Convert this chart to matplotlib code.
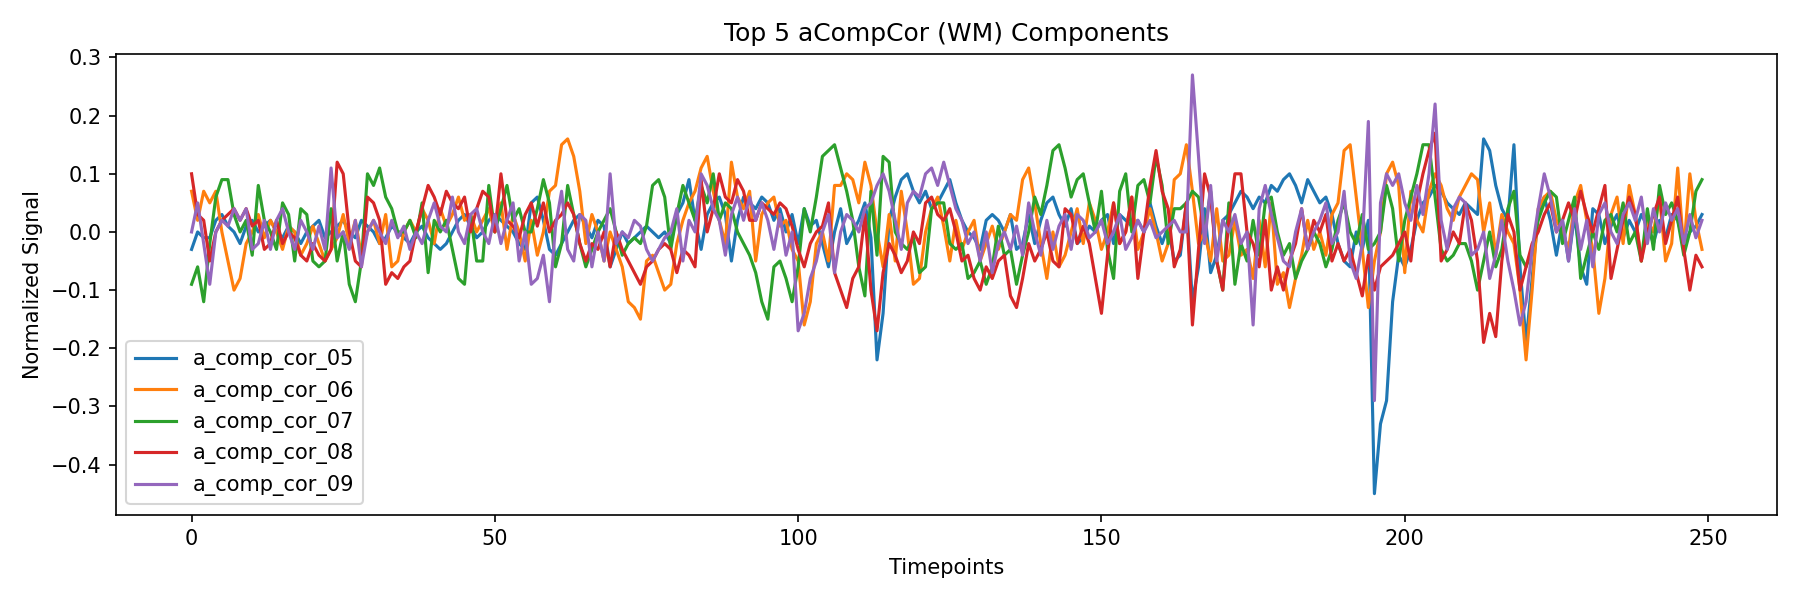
import matplotlib
matplotlib.use('Agg')
import matplotlib.pyplot as plt
import numpy as np

# Values (250 timepoints per component)
comp_05 = [
    -0.03, 0.0, -0.01, -0.01, 0.02, 0.03, 0.01, 0.0, -0.02, 0.01, 0.02, 0.0, 0.01, 0.02, 0.0, -0.01, 0.01, 0.0, -0.02, 0.0, 0.01, 0.02, -0.01, 0.0, 0.01,
    0.02, 0.0, -0.01, 0.02, 0.01, 0.0, -0.02, -0.01, 0.01, 0.0, -0.01, -0.02, 0.0, 0.01, -0.01, -0.02, -0.03, -0.02, 0.0, 0.02, 0.03, 0.01, -0.01, 0.0, 0.02,
    0.03, 0.02, 0.01, 0.0, -0.02, -0.03, 0.05, 0.06, 0.02, -0.03, -0.04, -0.02, 0.0, 0.02, 0.03, 0.01, -0.01, 0.02, 0.01, -0.06, -0.03, 0.0, -0.02, -0.01, 0.0,
    0.01, 0.0, -0.01, 0.0, -0.02, 0.03, 0.05, 0.09, 0.02, -0.03, 0.03, 0.05, 0.06, 0.03, -0.05, 0.02, 0.06, 0.05, 0.04, 0.06, 0.05, 0.02, 0.04, 0.0, 0.03,
    -0.02, 0.04, 0.01, 0.02, -0.02, -0.06, 0.0, 0.04, -0.02, 0.0, 0.02, 0.05, -0.01, -0.22, -0.14, 0.02, 0.06, 0.09, 0.1, 0.07, 0.05, 0.07, 0.04, 0.05, 0.07,
    0.09, 0.05, 0.02, 0.0, -0.01, -0.03, 0.02, 0.03, 0.02, 0.0, 0.03, -0.03, -0.02, 0.03, -0.02, 0.02, 0.05, 0.06, 0.03, 0.01, 0.04, -0.02, -0.01, 0.01, 0.0,
    0.02, 0.03, -0.02, 0.03, 0.02, 0.01, 0.02, 0.0, 0.05, 0.01, -0.02, 0.01, -0.05, -0.04, 0.05, -0.12, -0.06, 0.04, -0.07, -0.04, 0.02, 0.03, 0.05, 0.07, 0.06,
    0.04, 0.06, 0.05, 0.08, 0.07, 0.09, 0.1, 0.08, 0.05, 0.09, 0.07, 0.05, 0.06, 0.03, -0.02, -0.05, -0.06, 0.0, -0.03, 0.02, -0.45, -0.33, -0.29, -0.12, -0.04,
    -0.06, -0.03, 0.02, 0.05, 0.06, 0.08, 0.07, 0.05, 0.04, 0.03, 0.05, 0.04, 0.03, 0.16, 0.14, 0.08, 0.04, 0.02, 0.15, -0.06, -0.19, -0.08, 0.03, 0.06, 0.02,
    -0.04, 0.02, -0.05, 0.03, -0.06, -0.09, 0.04, 0.03, -0.02, 0.01, 0.03, -0.01, 0.02, 0.0, 0.03, 0.01, -0.02, 0.02, -0.01, 0.03, 0.02, -0.02, 0.0, 0.01, 0.03,
]
comp_06 = [
    0.07, 0.02, 0.07, 0.05, 0.07, 0.0, -0.05, -0.1, -0.08, -0.02, 0.0, 0.03, -0.01, 0.02, 0.0, -0.03, 0.01, 0.0, -0.04, -0.02, 0.01, -0.02, -0.05, -0.03, -0.01,
    0.03, -0.02, 0.02, -0.04, 0.0, 0.02, -0.02, 0.03, -0.06, -0.05, 0.0, 0.02, 0.0, 0.04, 0.02, -0.02, 0.04, 0.01, 0.03, 0.06, 0.02, 0.03, 0.0, 0.02, 0.04,
    0.0, 0.05, -0.03, 0.03, 0.0, -0.05, 0.02, -0.04, 0.0, 0.07, 0.08, 0.15, 0.16, 0.13, 0.07, -0.02, 0.03, 0.0, -0.05, 0.0, -0.03, -0.06, -0.12, -0.13, -0.15,
    -0.05, -0.04, -0.07, -0.1, -0.09, -0.02, 0.02, 0.05, 0.07, 0.11, 0.13, 0.07, 0.02, -0.02, 0.12, 0.06, 0.04, 0.07, -0.05, 0.03, 0.05, 0.06, 0.01, 0.02, -0.03,
    -0.05, -0.16, -0.12, -0.02, 0.0, -0.05, 0.08, 0.08, 0.1, 0.09, 0.05, 0.12, 0.08, 0.0, -0.06, 0.03, -0.05, 0.07, 0.0, -0.09, -0.08, 0.0, 0.04, 0.06, 0.01,
    -0.05, 0.02, -0.03, 0.0, 0.02, -0.05, -0.02, 0.01, -0.03, 0.0, 0.03, 0.02, 0.09, 0.11, 0.05, -0.02, -0.08, 0.0, -0.06, -0.04, 0.0, 0.04, -0.02, 0.05, 0.02,
    -0.03, 0.0, 0.05, -0.02, 0.0, 0.06, -0.03, 0.0, 0.04, 0.0, -0.05, -0.02, 0.09, 0.1, 0.15, 0.07, -0.02, 0.0, -0.05, 0.04, -0.05, -0.04, 0.02, -0.04, -0.03,
    -0.08, 0.02, -0.06, 0.05, -0.09, -0.07, -0.13, -0.08, -0.04, 0.02, -0.03, 0.0, -0.04, 0.03, 0.05, 0.14, 0.15, 0.06, -0.03, -0.13, -0.05, 0.0, 0.1, 0.12, 0.08,
    -0.07, 0.07, 0.02, 0.0, 0.07, 0.1, 0.08, 0.04, 0.02, 0.06, 0.08, 0.1, 0.09, 0.0, 0.05, -0.04, 0.03, 0.0, -0.02, -0.1, -0.22, -0.1, 0.04, 0.06, 0.07,
    0.02, 0.0, -0.03, 0.05, 0.08, 0.02, -0.03, -0.14, -0.08, 0.03, 0.06, -0.02, 0.08, 0.03, -0.05, 0.02, 0.0, 0.06, -0.05, -0.02, 0.11, -0.03, 0.1, 0.02, -0.03,
]
comp_07 = [
    -0.09, -0.06, -0.12, -0.02, 0.06, 0.09, 0.09, 0.03, 0.0, 0.02, -0.04, 0.08, 0.02, 0.0, -0.03, 0.05, 0.03, -0.05, 0.04, 0.03, -0.05, -0.06, -0.05, 0.04, -0.05,
    0.0, -0.09, -0.12, -0.05, 0.1, 0.08, 0.11, 0.06, 0.04, 0.0, 0.0, 0.02, -0.01, 0.05, -0.07, 0.02, 0.0, 0.02, -0.03, -0.08, -0.09, 0.03, -0.05, -0.05, 0.08,
    0.0, 0.04, 0.08, 0.02, 0.04, 0.0, 0.0, 0.04, 0.09, 0.05, -0.06, -0.02, 0.08, 0.03, -0.02, -0.06, -0.03, 0.0, 0.02, 0.04, 0.0, -0.04, -0.02, -0.01, -0.02,
    0.01, 0.08, 0.09, 0.06, -0.03, 0.03, 0.08, 0.05, 0.02, 0.08, 0.05, 0.1, 0.02, 0.05, 0.04, 0.0, -0.02, -0.04, -0.07, -0.12, -0.15, -0.06, -0.05, -0.08, -0.12,
    -0.06, 0.04, 0.0, 0.06, 0.13, 0.14, 0.15, 0.11, 0.07, 0.02, -0.06, -0.11, 0.07, -0.04, 0.13, 0.12, 0.0, -0.02, -0.03, -0.01, -0.07, -0.06, 0.04, 0.05, 0.05,
    -0.02, -0.03, -0.02, -0.08, -0.07, -0.05, -0.09, -0.06, 0.01, -0.04, -0.03, -0.09, -0.04, 0.0, 0.06, 0.03, 0.08, 0.14, 0.15, 0.11, 0.06, 0.09, 0.1, 0.05, 0.0,
    0.07, -0.03, -0.08, 0.07, 0.1, 0.0, 0.08, 0.09, 0.05, 0.13, 0.08, -0.02, 0.04, 0.04, 0.05, 0.07, 0.06, 0.0, 0.07, -0.05, -0.1, 0.05, -0.09, -0.02, -0.05,
    0.02, -0.04, 0.05, 0.06, 0.0, -0.04, -0.02, -0.08, -0.05, -0.03, 0.0, -0.02, -0.06, -0.03, 0.02, 0.05, 0.0, -0.02, 0.03, -0.03, -0.02, 0.0, 0.08, 0.04, -0.05,
    0.02, 0.06, 0.1, 0.15, 0.15, 0.06, -0.03, -0.05, -0.04, -0.02, -0.02, -0.05, -0.1, -0.05, 0.0, -0.06, -0.03, 0.04, 0.07, -0.04, -0.06, -0.03, 0.02, 0.05, 0.07,
    0.06, -0.02, 0.02, 0.06, -0.08, -0.04, 0.0, -0.03, 0.02, 0.03, 0.0, 0.05, -0.02, 0.0, -0.05, 0.04, -0.03, 0.08, 0.03, 0.05, 0.02, -0.04, 0.0, 0.07, 0.09,
]
comp_08 = [
    0.1, 0.03, 0.02, -0.05, 0.0, 0.02, 0.03, 0.04, 0.02, 0.04, 0.01, 0.02, -0.03, -0.02, 0.02, -0.02, 0.0, -0.01, -0.04, -0.05, -0.02, -0.04, -0.05, -0.03, 0.12,
    0.1, 0.0, -0.05, -0.06, 0.06, 0.05, 0.02, -0.09, -0.07, -0.08, -0.06, -0.05, 0.0, 0.04, 0.08, 0.06, 0.03, 0.07, 0.05, 0.04, 0.06, 0.0, 0.04, 0.07, 0.06,
    0.0, 0.1, 0.02, 0.01, -0.01, 0.03, 0.05, 0.01, 0.05, 0.0, 0.02, 0.03, 0.05, 0.03, -0.02, -0.05, -0.02, -0.03, 0.0, -0.06, 0.0, -0.03, -0.05, -0.07, -0.09,
    -0.06, -0.05, -0.03, -0.02, -0.03, -0.07, -0.03, -0.04, -0.06, 0.09, 0.0, 0.04, 0.1, 0.06, 0.05, 0.09, 0.07, 0.02, 0.02, 0.05, 0.04, 0.03, 0.05, 0.04, 0.01,
    -0.03, -0.06, -0.02, 0.0, 0.01, 0.05, -0.07, -0.1, -0.13, -0.08, -0.06, 0.03, -0.1, -0.17, -0.07, -0.02, -0.04, -0.07, -0.05, 0.0, -0.02, 0.05, 0.06, 0.03, 0.02,
    0.04, 0.0, -0.05, -0.04, -0.08, -0.1, -0.06, -0.08, -0.05, -0.04, -0.11, -0.13, -0.08, -0.02, -0.05, -0.03, 0.0, -0.05, -0.06, 0.04, 0.03, -0.02, 0.01, -0.02, -0.08,
    -0.14, -0.04, 0.05, -0.02, 0.0, 0.06, -0.08, 0.0, 0.08, 0.14, 0.07, 0.04, -0.06, -0.03, 0.05, -0.16, -0.03, 0.1, 0.06, -0.05, -0.1, 0.02, 0.1, 0.1, 0.0,
    -0.02, -0.06, 0.02, -0.1, -0.06, -0.1, -0.05, -0.02, 0.04, -0.03, 0.02, 0.0, 0.03, -0.05, -0.02, -0.05, -0.03, -0.07, -0.11, -0.04, -0.1, -0.06, -0.05, -0.04, -0.02,
    0.0, -0.05, 0.05, 0.1, 0.14, 0.17, -0.05, -0.03, 0.0, -0.02, 0.05, 0.02, -0.05, -0.19, -0.14, -0.18, -0.05, 0.03, 0.0, -0.1, -0.06, -0.02, 0.0, 0.03, 0.05,
    0.0, 0.02, 0.05, 0.02, 0.07, 0.03, 0.0, 0.04, 0.08, -0.08, -0.03, 0.02, 0.06, 0.03, -0.05, 0.0, 0.03, 0.06, -0.02, 0.02, 0.06, -0.03, -0.1, -0.04, -0.06,
]
comp_09 = [
    0.0, 0.05, -0.02, -0.09, 0.0, 0.02, 0.01, 0.04, 0.02, 0.04, -0.03, -0.02, 0.02, -0.03, 0.02, 0.04, 0.0, -0.03, 0.02, 0.0, -0.03, 0.01, -0.03, 0.11, -0.01,
    0.0, -0.03, 0.02, -0.06, 0.0, 0.02, 0.0, -0.02, 0.02, -0.01, 0.01, -0.03, 0.0, -0.02, 0.02, 0.05, 0.01, 0.0, 0.06, 0.0, -0.02, 0.03, 0.04, 0.0, -0.02,
    0.03, -0.02, 0.02, 0.05, -0.05, 0.0, -0.09, -0.08, -0.04, -0.12, 0.01, 0.07, -0.03, -0.05, 0.03, 0.02, -0.06, 0.0, -0.05, 0.1, -0.02, 0.0, -0.01, 0.02, 0.01,
    -0.03, -0.05, -0.03, -0.01, 0.0, 0.04, -0.05, 0.02, 0.0, 0.1, 0.08, 0.04, 0.02, -0.04, 0.03, 0.06, 0.02, 0.06, 0.02, 0.05, 0.02, -0.03, 0.03, -0.04, 0.0,
    -0.17, -0.14, -0.08, -0.05, 0.0, 0.03, -0.07, 0.0, 0.03, 0.02, 0.0, 0.04, 0.05, 0.08, 0.1, 0.07, 0.02, -0.03, 0.05, 0.07, 0.06, 0.1, 0.11, 0.08, 0.12,
    0.08, 0.04, 0.02, -0.02, 0.0, -0.05, 0.0, -0.07, -0.02, 0.0, -0.03, 0.01, -0.04, 0.05, 0.0, -0.04, 0.02, -0.03, 0.01, 0.03, -0.03, 0.03, 0.02, -0.01, 0.0,
    0.02, -0.02, 0.0, 0.03, -0.03, -0.01, 0.02, 0.0, 0.02, -0.01, 0.0, 0.01, 0.02, 0.0, 0.0, 0.27, 0.13, -0.02, 0.08, -0.05, 0.02, 0.0, 0.03, -0.02, 0.0,
    -0.16, 0.04, 0.08, 0.03, -0.01, -0.05, -0.06, 0.0, 0.04, -0.03, 0.0, 0.02, 0.05, -0.02, 0.0, 0.07, -0.05, -0.08, -0.02, 0.19, -0.29, 0.05, 0.1, 0.08, 0.1,
    0.05, 0.02, 0.08, 0.03, 0.1, 0.22, 0.02, -0.03, 0.04, 0.06, 0.05, -0.04, -0.03, 0.0, -0.08, -0.04, 0.02, -0.05, -0.1, -0.16, -0.12, -0.03, 0.04, 0.1, 0.06,
    0.0, 0.02, -0.05, 0.04, -0.03, 0.02, -0.06, 0.03, 0.05, 0.0, -0.02, 0.03, 0.05, 0.02, 0.06, -0.02, 0.04, 0.0, 0.05, 0.02, 0.04, -0.02, 0.03, -0.01, 0.02,
]

series_names = ['a_comp_cor_05', 'a_comp_cor_06', 'a_comp_cor_07', 'a_comp_cor_08', 'a_comp_cor_09']
series_values = [comp_05, comp_06, comp_07, comp_08, comp_09]


def main():
    fig, ax = plt.subplots(figsize=(12, 4), dpi=150)
    for name, vals in zip(series_names, series_values):
        ax.plot(np.arange(len(vals)), vals, label=name)

    ax.set_title('Top 5 aCompCor (WM) Components')
    ax.set_xlabel('Timepoints')
    ax.set_ylabel('Normalized Signal')
    ax.legend(loc='lower left')

    fig.tight_layout()
    plt.savefig('out.png', dpi=150)


if __name__ == '__main__':
    main()
